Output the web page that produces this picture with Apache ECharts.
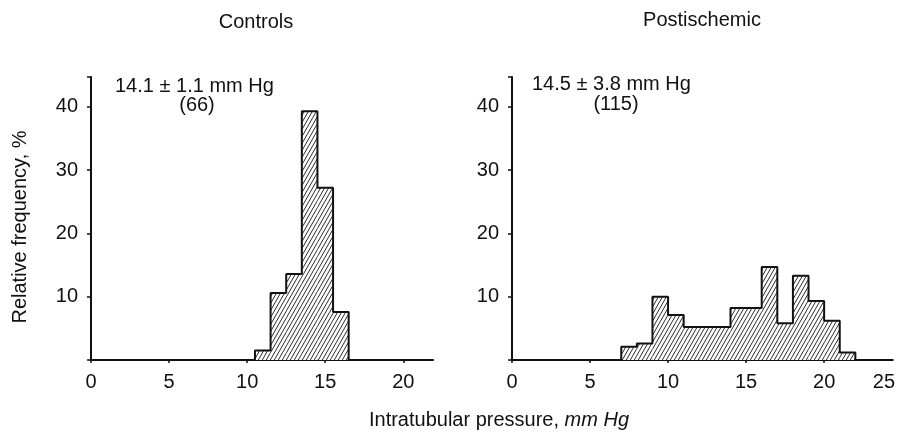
<!DOCTYPE html>
<html>
<head>
<meta charset="utf-8">
<script src="https://cdn.jsdelivr.net/npm/echarts@6/dist/echarts.min.js"></script>
<style>
html,body{margin:0;padding:0;background:#fff;}
#chart{width:898px;height:433px;}
</style>
</head>
<body>
<div id="chart"></div>
<script>
// ---- data ----
const controlsEdges = [10.5, 11.5, 12.5, 13.5, 14.5, 15.5, 16.5];
const controlsFreq = [1.5, 10.6, 13.6, 39.3, 27.2, 7.6];
const postEdges = [7, 8, 9, 10, 11, 12, 13, 14, 15, 16, 17, 18, 19, 20, 21, 22];
const postFreq = [2.1, 2.6, 10.0, 7.1, 5.2, 5.2, 5.2, 8.2, 8.2, 14.7, 5.8, 13.3, 9.3, 6.2, 1.2];
const yTicks = [10, 20, 30, 40];
const xTicksLeft = [0, 5, 10, 15, 20];
const xTicksRight = [0, 5, 10, 15, 20, 25];
const panelTitles = ['Controls', 'Postischemic'];
const panelStats = ['14.1 \u00b1 1.1 mm Hg', '14.5 \u00b1 3.8 mm Hg'];
const panelN = ['(66)', '(115)'];

// ---- hatch pattern ----
function makeHatch() {
  const w = 4, h = 7;
  const c = document.createElement('canvas');
  c.width = w; c.height = h;
  const ctx = c.getContext('2d');
  ctx.fillStyle = '#ffffff';
  ctx.fillRect(0, 0, w, h);
  ctx.strokeStyle = '#2a2a2a';
  ctx.lineWidth = 1;
  for (let k = -1; k <= 1; k++) {
    ctx.beginPath();
    ctx.moveTo(k * w, h);
    ctx.lineTo(k * w + w, 0);
    ctx.stroke();
  }
  return c;
}
const hatch = { image: makeHatch(), repeat: 'repeat' };

function bins(edges, freq) {
  return freq.map((v, i) => [edges[i], edges[i + 1], v]);
}
function outline(edges, freq) {
  const pts = [[edges[0], 0]];
  freq.forEach((v, i) => { pts.push([edges[i], v]); pts.push([edges[i + 1], v]); });
  pts.push([edges[edges.length - 1], 0]);
  return pts;
}

const FONT = '"Liberation Sans", Arial, Helvetica, sans-serif';
const TXT = '#111';
const FS = 20;
const F = FS + 'px ' + FONT;

function renderHist(params, api) {
  const a = api.coord([api.value(0), api.value(2)]);
  const b = api.coord([api.value(1), 0]);
  return {
    type: 'rect',
    shape: { x: a[0], y: a[1], width: b[0] - a[0], height: b[1] - a[1] },
    style: { fill: hatch, stroke: null }
  };
}

function yAxisCfg(gi) {
  return {
    type: 'value', gridIndex: gi, min: 0, max: 44.7, interval: 10,
    splitLine: { show: false },
    axisLine: { show: true, lineStyle: { color: '#111', width: 2 } },
    axisTick: { show: true, length: 4, lineStyle: { color: '#111', width: 1.5 } },
    axisLabel: {
      margin: 13, color: TXT, fontSize: FS, fontFamily: FONT,
      formatter: v => (yTicks.indexOf(v) >= 0 ? String(v) : '')
    }
  };
}
function xAxisCfg(gi, max, ticks) {
  return {
    type: 'value', gridIndex: gi, min: 0, max: max, interval: 5, position: 'bottom',
    splitLine: { show: false },
    axisLine: { show: true, onZero: false, lineStyle: { color: '#111', width: 2 } },
    axisTick: { show: true, length: 3, lineStyle: { color: '#111', width: 1.5 } },
    axisLabel: {
      margin: 12, color: TXT, fontSize: FS, fontFamily: FONT, showMaxLabel: false,
      formatter: v => (ticks.indexOf(v) >= 0 ? String(v) : '')
    }
  };
}

const chart = echarts.init(document.getElementById('chart'), null, { renderer: 'canvas' });
chart.setOption({
  animation: false,
  backgroundColor: '#ffffff',
  grid: [
    { left: 91, top: 77, width: 342, height: 283 },
    { left: 512, top: 77, width: 386, height: 283 }
  ],
  xAxis: [
    xAxisCfg(0, 21.9, xTicksLeft),
    xAxisCfg(1, 24.4, xTicksRight),
    {
      type: 'value', gridIndex: 1, min: 0, max: 25.6, interval: 5, position: 'bottom', offset: 0,
      splitLine: { show: false }, axisLine: { show: false, onZero: false }, axisTick: { show: false },
      axisLabel: {
        margin: 12, color: TXT, fontSize: FS, fontFamily: FONT,
        formatter: v => (v === 25 && xTicksRight.indexOf(v) >= 0 ? String(v) : '')
      }
    }
  ],
  yAxis: [yAxisCfg(0), yAxisCfg(1)],
  series: [
    { type: 'custom', xAxisIndex: 0, yAxisIndex: 0, data: bins(controlsEdges, controlsFreq), renderItem: renderHist, z: 2 },
    { type: 'line', xAxisIndex: 0, yAxisIndex: 0, data: outline(controlsEdges, controlsFreq), symbol: 'none',
      lineStyle: { color: '#111', width: 2 }, z: 3 },
    { type: 'custom', xAxisIndex: 1, yAxisIndex: 1, data: bins(postEdges, postFreq), renderItem: renderHist, z: 2 },
    { type: 'line', xAxisIndex: 1, yAxisIndex: 1, data: outline(postEdges, postFreq), symbol: 'none',
      lineStyle: { color: '#111', width: 2 }, z: 3 }
  ],
  graphic: [
    { type: 'text', x: 256, y: 22, style: { text: panelTitles[0], font: F, fill: TXT, textAlign: 'center', textVerticalAlign: 'middle' } },
    { type: 'text', x: 702, y: 20, style: { text: panelTitles[1], font: F, fill: TXT, textAlign: 'center', textVerticalAlign: 'middle' } },
    { type: 'text', x: 115, y: 86, style: { text: panelStats[0], font: F, fill: TXT, textAlign: 'left', textVerticalAlign: 'middle' } },
    { type: 'text', x: 197, y: 105, style: { text: panelN[0], font: F, fill: TXT, textAlign: 'center', textVerticalAlign: 'middle' } },
    { type: 'text', x: 532, y: 84, style: { text: panelStats[1], font: F, fill: TXT, textAlign: 'left', textVerticalAlign: 'middle' } },
    { type: 'text', x: 616, y: 104, style: { text: panelN[1], font: F, fill: TXT, textAlign: 'center', textVerticalAlign: 'middle' } },
    { type: 'text', x: 20, y: 227, rotation: Math.PI / 2,
      style: { text: 'Relative frequency, %', font: F, fill: TXT, textAlign: 'center', textVerticalAlign: 'middle' } },
    { type: 'text', x: 499, y: 420,
      style: {
        text: '{a|Intratubular pressure, }{b|mm Hg}', textAlign: 'center', textVerticalAlign: 'middle',
        rich: {
          a: { fontSize: FS, fontFamily: FONT, fill: TXT, color: TXT },
          b: { fontSize: FS, fontFamily: FONT, fontStyle: 'italic', fill: TXT, color: TXT }
        }
      } }
  ]
});
</script>
</body>
</html>
